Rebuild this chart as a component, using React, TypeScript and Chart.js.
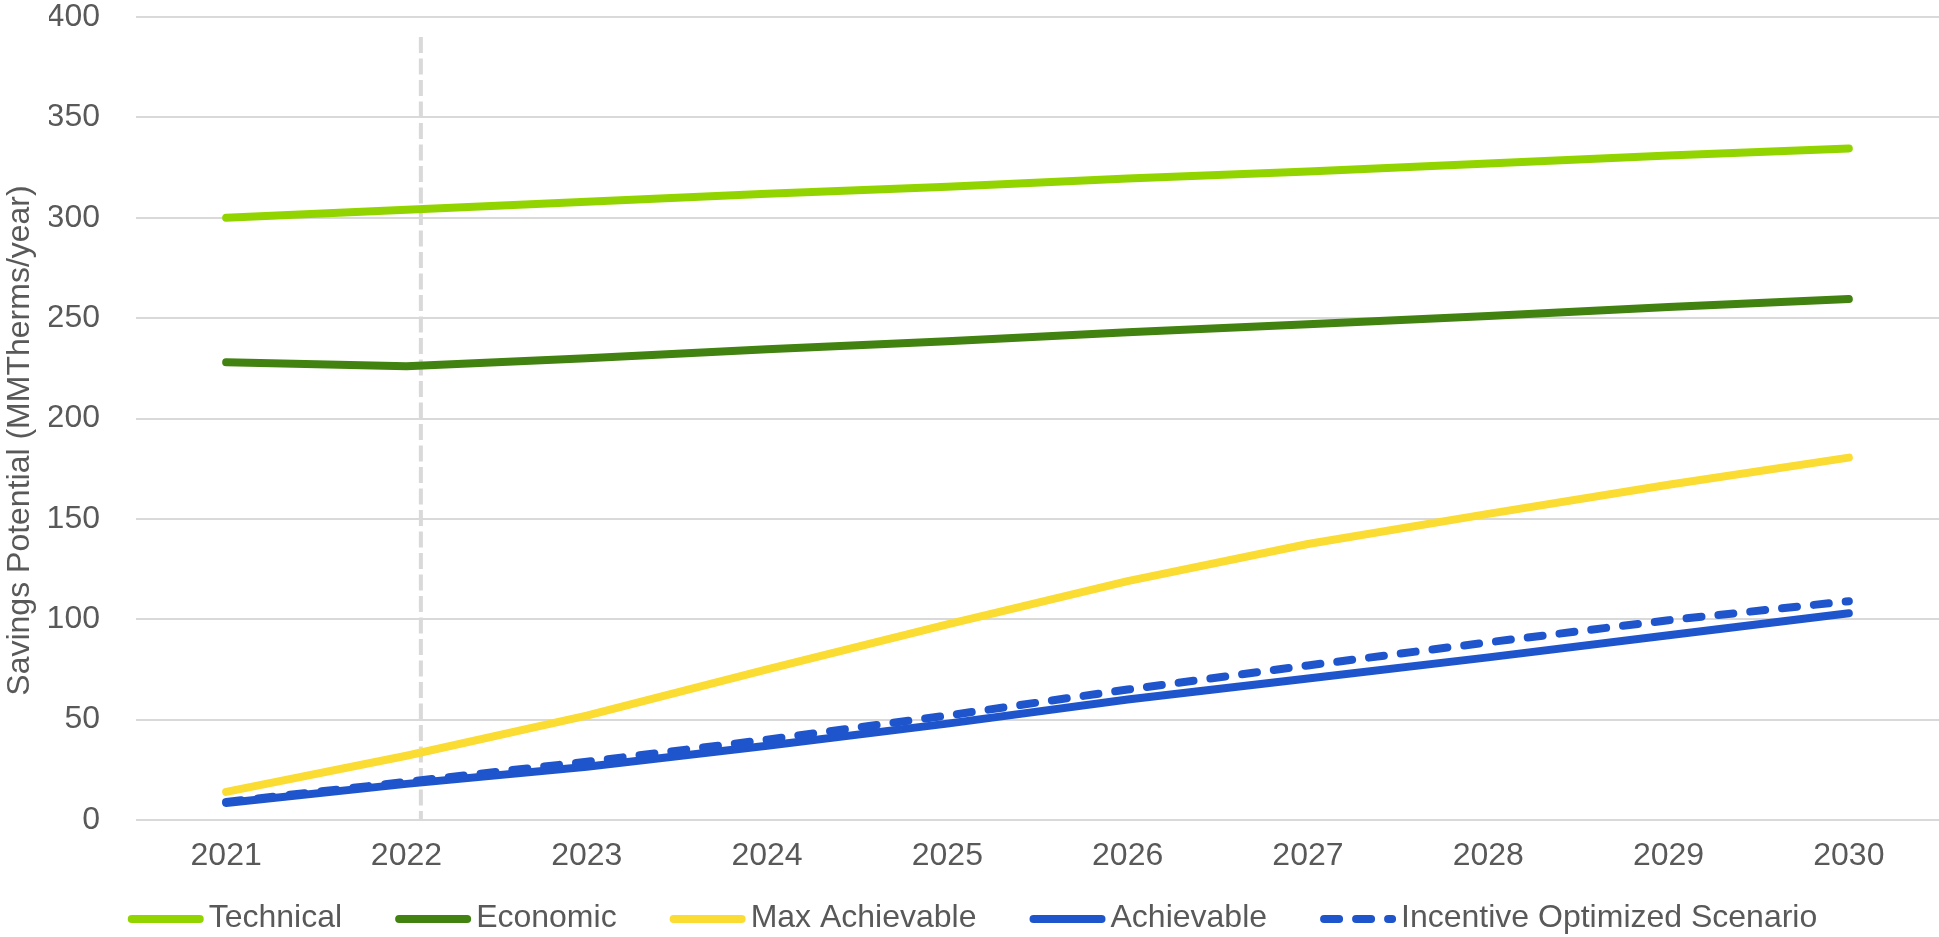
import { useEffect, useRef } from 'react';
import { Chart, registerables } from 'chart.js';

Chart.register(...registerables);

// Annual savings potential, MMTherms/year
const years = ['2021', '2022', '2023', '2024', '2025', '2026', '2027', '2028', '2029', '2030'];
const technical = [300, 304, 308, 312, 315.5, 319.5, 323, 327, 331, 334.5];
const economic = [228, 226, 230, 234.5, 238.5, 243, 247, 251, 255.5, 259.5];
const maxAchievable = [14, 32, 52, 75, 97.5, 119, 137.5, 152.5, 167, 180.5];
const achievable = [8.5, 18, 26.5, 37, 48, 60, 70.5, 81, 92, 103];
const incentiveOptimized = [9, 19, 29, 40, 52, 65, 77, 88.5, 99.5, 109];

const yMin = 0;
const yMax = 400;
const yStep = 50;

// Vertical divider just after the 2022 category, in category-index units
const dividerIndex = 1.08;
const dividerTop = 390;

const axisTitle = 'Savings Potential (MMTherms/year)';

const FONT = '"Liberation Sans", Arial, Helvetica, sans-serif';
const TEXT_COLOR = '#595959';
const GRID_COLOR = '#D9D9D9';
const TICK_SIZE = 32;
const LEGEND_SIZE = 32;
const TITLE_SIZE = 32;

const W = 1939;
const H = 937;

const decorations = {
  id: 'decorations',
  beforeDatasetsDraw(chart: any) {
    const { ctx, scales } = chart;
    const xs = scales.x;
    const ys = scales.y;
    const p1 = xs.getPixelForValue(1);
    const p2 = xs.getPixelForValue(2);
    const px = p1 + (dividerIndex - 1) * (p2 - p1);
    ctx.save();
    ctx.strokeStyle = GRID_COLOR;
    ctx.lineWidth = 4;
    ctx.setLineDash([16, 5.5]);
    ctx.beginPath();
    ctx.moveTo(px, ys.getPixelForValue(dividerTop));
    ctx.lineTo(px, ys.getPixelForValue(yMin));
    ctx.stroke();
    ctx.restore();
  },
  afterDraw(chart: any) {
    const { ctx, chartArea } = chart;
    ctx.save();

    // rotated y-axis title
    ctx.fillStyle = TEXT_COLOR;
    ctx.font = `${TITLE_SIZE}px ${FONT}`;
    ctx.textAlign = 'center';
    ctx.textBaseline = 'middle';
    ctx.translate(20, (chartArea.top + chartArea.bottom) / 2 + 22);
    ctx.rotate(-Math.PI / 2);
    ctx.fillText(axisTitle, 0, 0);
    ctx.setTransform(1, 0, 0, 1, 0, 0);

    // legend row along the bottom
    const lineLen = 68;
    const textGap = 9;
    const itemGap = 57;
    const ly = 919;
    ctx.font = `${LEGEND_SIZE}px ${FONT}`;
    ctx.textAlign = 'left';
    const items = chart.data.datasets.map((ds: any) => ({
      ds,
      w: ctx.measureText(ds.label).width,
    }));
    const total =
      items.reduce((s: number, it: any) => s + lineLen + textGap + it.w, 0) + itemGap * (items.length - 1);
    let x = (W - total) / 2 + 5;
    for (const it of items) {
      ctx.strokeStyle = it.ds.borderColor;
      ctx.lineWidth = 8;
      ctx.lineCap = 'round';
      ctx.setLineDash(it.ds.borderDash || []);
      ctx.beginPath();
      ctx.moveTo(x, ly);
      ctx.lineTo(x + lineLen, ly);
      ctx.stroke();
      ctx.setLineDash([]);
      ctx.fillStyle = TEXT_COLOR;
      ctx.fillText(it.ds.label, x + lineLen + textGap, ly - 1);
      x += lineLen + textGap + it.w + itemGap;
    }
    ctx.restore();
  },
};

function series(label: string, data: number[], color: string, dash?: number[]) {
  return {
    label,
    data,
    borderColor: color,
    backgroundColor: color,
    borderWidth: 8,
    borderCapStyle: 'round' as const,
    borderJoinStyle: 'round' as const,
    borderDash: dash,
    pointRadius: 0,
    pointHoverRadius: 0,
    tension: 0,
    fill: false,
  };
}

export default function App() {
  const canvasRef = useRef<HTMLCanvasElement>(null);

  useEffect(() => {
    if (!canvasRef.current) return;
    const chart = new Chart(canvasRef.current, {
      type: 'line',
      data: {
        labels: years,
        datasets: [
          series('Technical', technical, '#92D400'),
          series('Economic', economic, '#418210'),
          series('Max Achievable', maxAchievable, '#FADC32'),
          series('Achievable', achievable, '#1F55CC'),
          series('Incentive Optimized Scenario', incentiveOptimized, '#1F55CC', [15, 17]),
        ],
      },
      options: {
        animation: false,
        responsive: false,
        devicePixelRatio: 1,
        layout: { padding: { left: 49, right: 0, top: 0, bottom: 64 } },
        plugins: {
          legend: { display: false },
          tooltip: { enabled: false },
        },
        scales: {
          x: {
            offset: true,
            grid: { display: false, drawTicks: false },
            border: { display: false },
            ticks: {
              color: TEXT_COLOR,
              font: { family: FONT, size: TICK_SIZE },
              padding: 17,
              maxRotation: 0,
            },
            afterFit: (scale: any) => {
              scale.height = 53;
            },
          },
          y: {
            min: yMin,
            max: yMax,
            grid: { color: GRID_COLOR, lineWidth: 2, drawTicks: false },
            border: { display: false },
            ticks: {
              stepSize: yStep,
              color: TEXT_COLOR,
              font: { family: FONT, size: TICK_SIZE },
              padding: 36,
            },
            afterFit: (scale: any) => {
              scale.width = 87;
              scale.paddingTop = 17;
              scale.paddingBottom = 0;
            },
          },
        },
      },
      plugins: [decorations],
    });
    return () => chart.destroy();
  }, []);

  return (
    <div style={{ position: 'fixed', left: 0, top: 0, width: W, height: H, background: '#fff' }}>
      <canvas ref={canvasRef} width={W} height={H} style={{ display: 'block', width: W, height: H }} />
    </div>
  );
}
